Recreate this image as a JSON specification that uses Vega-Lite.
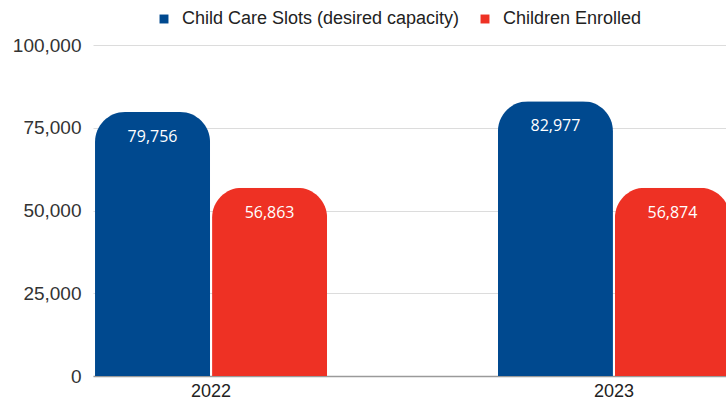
{
  "$schema": "https://vega.github.io/schema/vega-lite/v6.json",
  "width": 639,
  "height": 331,
  "autosize": "none",
  "padding": {"left": 93, "top": 45, "right": 0, "bottom": 26},
  "background": "white",
  "config": {
    "view": {"stroke": null},
    "font": "Liberation Sans"
  },
  "data": {
    "values": [
      {"year": "2022", "series": "Child Care Slots (desired capacity)", "value": 79756},
      {"year": "2022", "series": "Children Enrolled", "value": 56863},
      {"year": "2023", "series": "Child Care Slots (desired capacity)", "value": 82977},
      {"year": "2023", "series": "Children Enrolled", "value": 56874}
    ]
  },
  "encoding": {
    "x": {
      "field": "year", "type": "nominal",
      "scale": {"paddingInner": 0.424, "paddingOuter": 0.005},
      "axis": {"title": null, "labelAngle": 0, "ticks": false, "domainColor": "#9a9a9a", "domainWidth": 1.5, "labelFontSize": 18, "labelColor": "#222", "labelPadding": 6}
    },
    "xOffset": {"field": "series", "type": "nominal", "scale": {"paddingInner": 0.017, "paddingOuter": 0}},
    "y": {
      "field": "value", "type": "quantitative",
      "scale": {"domain": [0, 100000], "nice": false},
      "axis": {"title": null, "values": [0, 25000, 50000, 75000, 100000], "format": ",d", "domain": false, "ticks": false, "labelPadding": 12, "labelFontSize": 19, "labelColor": "#333", "gridColor": "#dcdcdc", "gridWidth": 1}
    }
  },
  "layer": [
    {
      "mark": {"type": "bar", "cornerRadiusTopLeft": 30, "cornerRadiusTopRight": 30},
      "encoding": {
        "color": {
          "field": "series", "type": "nominal",
          "scale": {"domain": ["Child Care Slots (desired capacity)", "Children Enrolled"], "range": ["#00498f", "#ee3124"]},
          "legend": {"title": null, "orient": "none", "direction": "horizontal", "legendX": 62, "legendY": -35, "symbolType": "square", "symbolSize": 80, "symbolStrokeWidth": 0, "labelFontSize": 18, "labelLimit": 400, "labelColor": "#222", "columnPadding": 16, "labelOffset": 9}
        }
      }
    },
    {
      "mark": {"type": "text", "baseline": "middle", "dy": 25, "color": "white", "fontSize": 16, "font": "Open Sans"},
      "encoding": {
        "text": {"field": "value", "type": "quantitative", "format": ",d"}
      }
    }
  ]
}
